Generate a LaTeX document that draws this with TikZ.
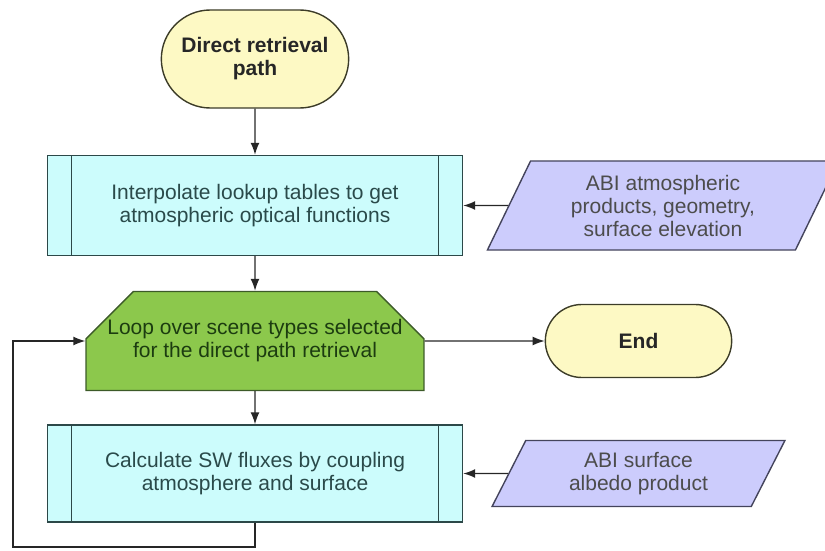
\documentclass[tikz,border=0pt]{standalone}
\usepackage{fontspec}
\setmainfont{Liberation Sans}
\usetikzlibrary{arrows.meta,positioning,shapes.misc,shapes.geometric}

\definecolor{termfill}{HTML}{FDF9C4}
\definecolor{termline}{HTML}{3C3C28}
\definecolor{procfill}{HTML}{CCFCFC}
\definecolor{procline}{HTML}{2C4848}
\definecolor{loopfill}{HTML}{8CC84C}
\definecolor{loopline}{HTML}{3C5A28}
\definecolor{datafill}{HTML}{CCCCFC}
\definecolor{dataline}{HTML}{44445C}
\definecolor{proctext}{HTML}{2A4A4A}
\definecolor{looptext}{HTML}{1C3C10}

\tikzset{
  terminal/.style={rounded rectangle,draw=termline,fill=termfill,line width=1.4pt,
    font=\fontsize{21}{23}\selectfont\bfseries,text=black!85,align=center},
  process/.style={rectangle,draw=procline,fill=procfill,line width=1.4pt,
    minimum width=415pt,minimum height=100pt,align=center,text=proctext,
    font=\fontsize{21}{23}\selectfont,
    path picture={
      \draw[procline,line width=1.4pt]
        ([xshift=24pt]path picture bounding box.north west) -- ([xshift=24pt]path picture bounding box.south west)
        ([xshift=-24pt]path picture bounding box.north east) -- ([xshift=-24pt]path picture bounding box.south east);}},
  loopbox/.style={chamfered rectangle,chamfered rectangle corners={north west,north east},
    chamfered rectangle xsep=23pt,chamfered rectangle ysep=26pt,
    draw=loopline,fill=loopfill,line width=1.4pt,inner sep=0pt,
    minimum width=337pt,minimum height=99pt,align=center,text=looptext,
    font=\fontsize{21}{23}\selectfont},
  datain/.style={trapezium,trapezium left angle=64,trapezium right angle=116,
    trapezium stretches=true,draw=dataline,fill=datafill,line width=1.4pt,
    inner sep=0pt,align=center,text=black!70,font=\fontsize{21}{23}\selectfont},
  arr/.style={-{Latex[length=12pt,width=9pt]},line width=1.4pt,black!85}
}

\begin{document}
\begin{tikzpicture}[x=1pt,y=1pt,node distance=100pt,on grid]
  \useasboundingbox (0,0) rectangle (825,550);
  \clip (0,0) rectangle (825,550);
  \node[terminal,minimum width=194pt,minimum height=98pt] (start) at (255,491) {Direct retrieval\\path};
  \node[process]  (interp) [below=146.5pt of start]  {Interpolate lookup tables to get\\atmospheric optical functions};
  \node[loopbox]  (loop)   [below=135.5pt of interp] {Loop over scene types selected\\for the direct path retrieval};
  \node[process,minimum height=97pt] (calc) [below=132.5pt of loop] {Calculate SW fluxes by coupling\\atmosphere and surface};
  \node[datain,minimum width=352pt,minimum height=89pt] (atm) [right=408pt of interp] {ABI atmospheric\\products, geometry,\\surface elevation};
  \node[terminal,minimum width=193pt,minimum height=73pt] (end) [right=383.5pt of loop] {End};
  \node[datain,minimum width=293pt,minimum height=66pt] (albedo) [right=383.5pt of calc] {ABI surface\\albedo product};
  \coordinate (back) at (13,3);

  \draw[arr] (start) -- (interp);
  \draw[arr] (interp) -- (loop);
  \draw[arr] (loop) -- (calc);
  \draw[arr] (atm) -- (interp);
  \draw[arr] (albedo) -- (calc);
  \draw[arr] (loop) -- (end);
  \draw[arr] (calc.south) |- (back) |- (loop.west);
\end{tikzpicture}
\end{document}
